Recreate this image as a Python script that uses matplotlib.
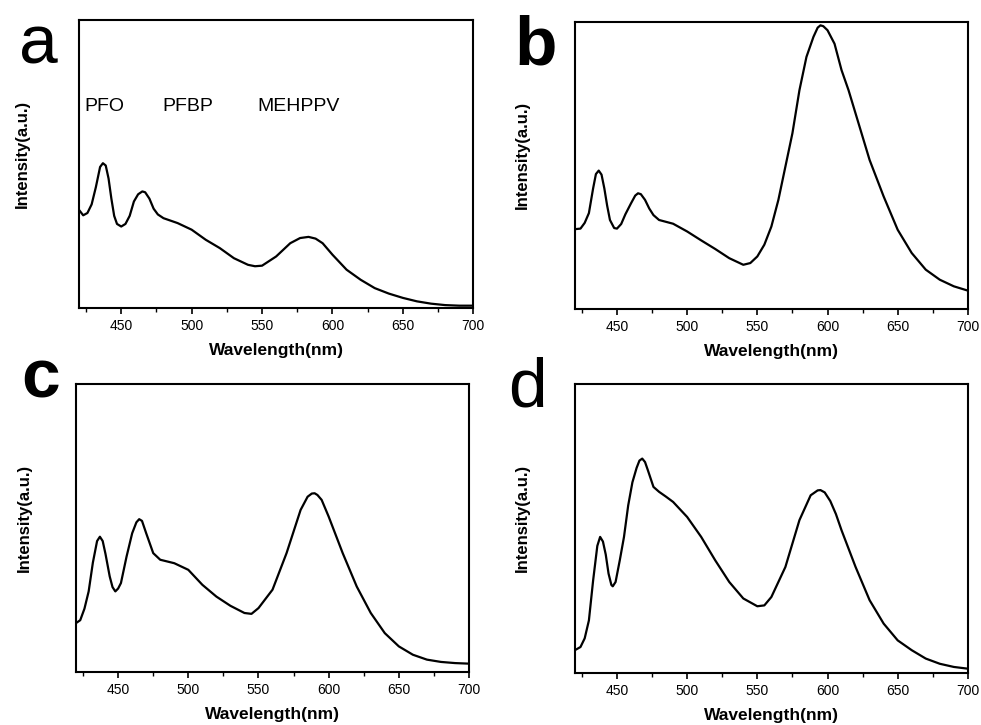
import numpy as np
import matplotlib.pyplot as plt

plt.rcParams['font.family'] = ['Liberation Sans', 'DejaVu Sans']

# wavelength (nm) and normalised intensity
wl_a = [420, 423, 426, 429, 432, 435, 437, 439, 441, 443, 445, 447, 450, 453, 456,
        459, 462, 465, 467, 470, 473, 476, 480, 490, 500, 510, 520, 530, 540, 545,
        550, 560, 570, 577, 583, 588, 593, 600, 610, 620, 630, 640, 650, 660, 670,
        680, 690, 700]
int_a = [0.341, 0.322, 0.330, 0.360, 0.420, 0.490, 0.503, 0.495, 0.450, 0.380, 0.320,
         0.292, 0.283, 0.292, 0.320, 0.370, 0.395, 0.405, 0.402, 0.380, 0.345, 0.325,
         0.312, 0.295, 0.272, 0.237, 0.208, 0.173, 0.150, 0.145, 0.147, 0.179, 0.225,
         0.243, 0.247, 0.241, 0.225, 0.185, 0.133, 0.098, 0.069, 0.050, 0.035, 0.023,
         0.015, 0.010, 0.008, 0.008]

wl_b = [420, 424, 427, 430, 433, 435, 437, 439, 441, 443, 445, 448, 450, 453, 456,
        460, 463, 465, 467, 470, 473, 476, 480, 490, 500, 510, 520, 530, 540, 545,
        550, 555, 560, 565, 570, 575, 580, 585, 590, 593, 595, 597, 600, 605, 610,
        615, 620, 625, 630, 640, 650, 660, 670, 680, 690, 700]
int_b = [0.278, 0.280, 0.300, 0.334, 0.420, 0.470, 0.482, 0.468, 0.420, 0.360, 0.310,
         0.282, 0.280, 0.296, 0.330, 0.368, 0.395, 0.403, 0.400, 0.380, 0.350, 0.327,
         0.310, 0.297, 0.270, 0.239, 0.209, 0.177, 0.154, 0.160, 0.183, 0.224, 0.287,
         0.380, 0.496, 0.612, 0.762, 0.878, 0.948, 0.980, 0.988, 0.985, 0.971, 0.924,
         0.832, 0.762, 0.681, 0.600, 0.519, 0.392, 0.276, 0.195, 0.137, 0.102, 0.079,
         0.064]

wl_c = [420, 423, 426, 429, 432, 435, 437, 439, 441, 444, 446, 448, 450, 452, 456,
        460, 463, 465, 467, 470, 475, 480, 490, 500, 510, 520, 530, 540, 545, 550,
        560, 570, 580, 585, 588, 590, 592, 595, 600, 610, 620, 630, 640, 650, 660,
        670, 680, 690, 700]
int_c = [0.170, 0.180, 0.220, 0.280, 0.380, 0.455, 0.470, 0.455, 0.410, 0.332, 0.295,
         0.280, 0.290, 0.309, 0.401, 0.482, 0.520, 0.531, 0.525, 0.482, 0.413, 0.390,
         0.378, 0.355, 0.303, 0.262, 0.230, 0.205, 0.202, 0.222, 0.286, 0.413, 0.563,
         0.609, 0.620, 0.621, 0.615, 0.598, 0.540, 0.413, 0.297, 0.205, 0.135, 0.089,
         0.060, 0.043, 0.035, 0.031, 0.029]

wl_d = [420, 424, 427, 430, 433, 436, 438, 440, 442, 444, 446, 447, 449, 452, 455,
        458, 461, 464, 466, 468, 470, 472, 476, 480, 485, 490, 500, 510, 520, 530,
        540, 550, 555, 560, 570, 580, 588, 593, 595, 598, 602, 606, 610, 620, 630,
        640, 650, 660, 670, 680, 690, 700]
int_d = [0.079, 0.090, 0.120, 0.182, 0.320, 0.440, 0.471, 0.455, 0.410, 0.344, 0.305,
         0.300, 0.315, 0.390, 0.471, 0.580, 0.660, 0.710, 0.735, 0.742, 0.730, 0.702,
         0.644, 0.627, 0.610, 0.592, 0.540, 0.471, 0.390, 0.315, 0.258, 0.231, 0.234,
         0.263, 0.367, 0.529, 0.615, 0.632, 0.633, 0.625, 0.595, 0.550, 0.494, 0.367,
         0.252, 0.171, 0.113, 0.079, 0.050, 0.032, 0.021, 0.015]

panels = [
    ("a", wl_a, int_a, [0.0805, 0.5752, 0.402, 0.397], (0.019, 0.913), "normal", -0.124),
    ("b", wl_b, int_b, [0.586, 0.5738, 0.4006, 0.396], (0.524, 0.911), "bold", -0.115),
    ("c", wl_c, int_c, [0.0775, 0.0731, 0.4006, 0.397], (0.022, 0.452), "bold", -0.112),
    ("d", wl_d, int_d, [0.586, 0.0717, 0.4006, 0.3986], (0.518, 0.439), "normal", -0.115),
]

fig = plt.figure(figsize=(9.81, 7.25), dpi=100)

for letter, wl, inten, rect, lpos, lweight, ylab_x in panels:
    ax = fig.add_axes(rect)
    ax.plot(wl, inten, color="black", lw=1.6)
    ax.set_xlim(420, 700)
    ax.set_ylim(0, 1)
    ax.set_xticks([450, 500, 550, 600, 650, 700])
    ax.set_xticks([425, 475, 525, 575, 625, 675], minor=True)
    ax.set_yticks([])
    ax.tick_params(axis="x", which="major", direction="out", length=4, width=1.2,
                   labelsize=10, pad=4)
    ax.tick_params(axis="x", which="minor", direction="out", length=3, width=1.0)
    for sp in ax.spines.values():
        sp.set_linewidth(1.5)
    ax.set_xlabel("Wavelength(nm)", fontsize=12.5, fontweight="bold")
    ax.set_ylabel("Intensity(a.u.)", fontsize=12, fontweight="bold")
    ax.yaxis.set_label_coords(ylab_x, 0.535)
    ax.xaxis.set_label_coords(0.5, -0.122)
    fig.text(lpos[0], lpos[1], letter, fontsize=50, fontweight=lweight,
             ha="left", va="baseline")
    if letter == "a":
        ax.text(424, 0.70, "PFO", fontsize=14, va="center")
        ax.text(479.5, 0.70, "PFBP", fontsize=14, va="center")
        ax.text(547, 0.70, "MEHPPV", fontsize=14, va="center")

fig.savefig("out.png", dpi=100)
